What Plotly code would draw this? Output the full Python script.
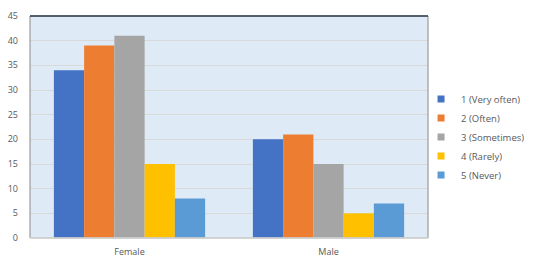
import plotly.graph_objects as go

categories = ["Female", "Male"]
series_names = ["1 (Very often)", "2 (Often)", "3 (Sometimes)", "4 (Rarely)", "5 (Never)"]
values = [
    [34, 20],
    [39, 21],
    [41, 15],
    [15, 5],
    [8, 7],
]
colors = ["#4472C4", "#ED7D31", "#A5A5A5", "#FFC000", "#5B9BD5"]
y_ticks = [0, 5, 10, 15, 20, 25, 30, 35, 40, 45]

fig = go.Figure()
for name, vals, c in zip(series_names, values, colors):
    fig.add_trace(go.Bar(x=categories, y=vals, name=name, marker_color=c,
                         marker_line_width=0, showlegend=False))
# legend entries with small square swatches
for name, c in zip(series_names, colors):
    fig.add_trace(go.Scatter(x=[None], y=[None], mode="markers", name=name,
                             marker=dict(symbol="square", size=7, color=c)))

fig.update_layout(
    width=535, height=263,
    margin=dict(l=30, r=107, t=16, b=25, autoexpand=False),
    paper_bgcolor="white",
    plot_bgcolor="#DEEAF6",
    barmode="group",
    bargap=0.24,
    bargroupgap=0,
    font=dict(family="Open Sans", size=9, color="#595959"),
    legend=dict(xref="container", yref="container", x=0.787, y=0.479,
                xanchor="left", yanchor="middle",
                font=dict(size=9.5, color="#595959"), tracegroupgap=0,
                itemwidth=30, bgcolor="rgba(0,0,0,0)"),
    xaxis=dict(showgrid=False, ticks="", tickfont=dict(size=9), ticklabelstandoff=7,
               automargin=False),
    yaxis=dict(range=[0, 45], tickvals=y_ticks, gridcolor="#D9D9D9", gridwidth=1,
               zeroline=False, ticks="", tickfont=dict(size=9), ticklabelstandoff=11,
               automargin=False),
)
fig.add_shape(type="rect", xref="paper", yref="paper", x0=0, x1=1, y0=0, y1=1,
              line=dict(color="#8A8A8A", width=1))
fig.add_shape(type="line", xref="paper", yref="paper", x0=0, x1=1, y0=1, y1=1,
              line=dict(color="#333F50", width=1.5))
fig.add_shape(type="line", xref="paper", yref="paper", x0=0, x1=1, y0=0, y1=0,
              line=dict(color="#D9D9D9", width=1.5))
fig.write_html("out.html")
